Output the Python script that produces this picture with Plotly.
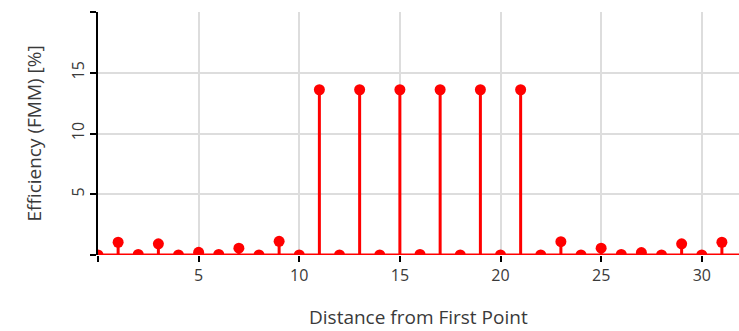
import plotly.graph_objects as go

# Efficiency per element position
distance = list(range(32))
efficiency = [0.0, 1.05, 0.05, 0.92, 0.0, 0.22, 0.05, 0.56, 0.0, 1.13, 0.0,
              13.6, 0.0, 13.6, 0.0, 13.6, 0.05, 13.6, 0.0, 13.6, 0.0, 13.6,
              0.0, 1.1, 0.0, 0.56, 0.05, 0.2, 0.0, 0.92, 0.0, 1.05]

x_ticks = [0, 5, 10, 15, 20, 25, 30]
x_labels = ["", "5", "10", "15", "20", "25", "30"]
y_ticks = [0, 5, 10, 15, 20]
y_labels = ["", "5", "10", "15", ""]
x_title = "Distance from First Point"
y_title = "Efficiency (FMM) [%]"

RED = "#ff0000"
FONT = "Open Sans"
TEXT = "#3a3a3a"

# stems: vertical segments from zero to each value
stem_x, stem_y = [], []
for d, e in zip(distance, efficiency):
    stem_x += [d, d, None]
    stem_y += [0, e, None]

fig = go.Figure()
fig.add_trace(go.Scatter(x=stem_x, y=stem_y, mode="lines",
                         line=dict(color=RED, width=3), hoverinfo="skip"))
fig.add_trace(go.Scatter(x=distance, y=efficiency, mode="markers",
                         marker=dict(color=RED, size=11)))

# baseline along zero
fig.add_shape(type="line", xref="paper", yref="y", x0=0, x1=1, y0=0, y1=0,
              line=dict(color=RED, width=3), layer="above")

# axis titles placed as paper annotations
fig.add_annotation(text=x_title, xref="paper", yref="paper", x=0.5, y=0,
                   yshift=-62, showarrow=False, xanchor="center", yanchor="middle",
                   font=dict(family=FONT, size=19, color=TEXT))
fig.add_annotation(text=y_title, xref="paper", yref="paper", x=0, y=0.5,
                   xshift=-65, showarrow=False, textangle=-90,
                   xanchor="center", yanchor="middle",
                   font=dict(family=FONT, size=19, color=TEXT))

fig.update_layout(
    width=739, height=331,
    margin=dict(l=98, r=0, t=12, b=76),
    paper_bgcolor="white", plot_bgcolor="white",
    showlegend=False,
    font=dict(family=FONT, size=16, color=TEXT),
    xaxis=dict(range=[0, 31.85], tickvals=x_ticks, ticktext=x_labels,
               showgrid=True, gridcolor="#dddddd", gridwidth=2,
               zeroline=False, showline=False,
               ticks="outside", ticklen=6, tickwidth=2, tickcolor="black",
               tickfont=dict(family=FONT, size=16, color=TEXT)),
    yaxis=dict(range=[0, 20], tickvals=y_ticks, ticktext=y_labels,
               showgrid=True, gridcolor="#dddddd", gridwidth=2,
               zeroline=False, showline=True, linecolor="black", linewidth=2,
               ticks="outside", ticklen=6, tickwidth=2, tickcolor="black",
               tickangle=-90,
               tickfont=dict(family=FONT, size=16, color=TEXT)),
)

fig.write_html("out.html")
